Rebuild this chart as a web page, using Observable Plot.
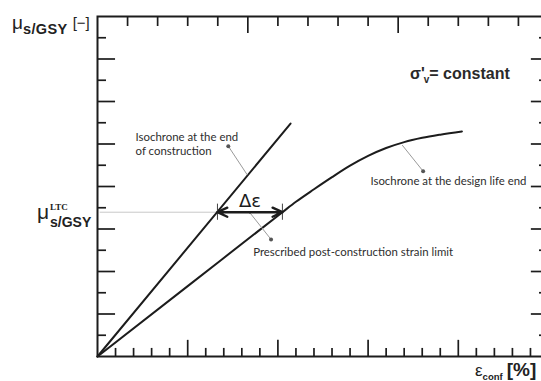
<!DOCTYPE html>
<html><head><meta charset="utf-8">
<script src="https://cdn.jsdelivr.net/npm/d3@7"></script>
<script src="https://cdn.jsdelivr.net/npm/@observablehq/plot@0.6"></script>
<style>
html,body{margin:0;padding:0;overflow:hidden;background:#fff;}
#chart{width:541px;height:381px;overflow:hidden;}
#chart svg{display:block;max-width:none !important;}
</style></head><body><div id="chart"></div>
<script>
// ---- data ----
const bottomTicks = [1,2,3,4,6,7,8,9,11,12,13,14,16,17,18,19,21,22,23,24];
const bottomMajor = [5,10,15,20];
const topTicks = [1.667,3.333,5,6.667,10,11.667,13.333,15,18.333,20,21.667,23.333];
const topMajor = [8.333,16.667];
const sideTicks = [1,3,5,7,9,11,13,15];
const sideMajor = [2,4,6,8,10,12,14];

const constructionStrain = [0, 10.70];
const constructionMu = [0, 10.96];
const designStrain = [0, 5, 10.25, 11, 12, 13, 14, 15, 16, 17, 18, 19, 20.2];
const designMu = [0, 3.31, 6.79, 7.28, 7.87, 8.44, 8.98, 9.44, 9.81, 10.09, 10.29, 10.44, 10.59];

const muLTC = 6.79;
const strainEndConstruction = 6.65;
const strainDesignLife = 10.25;

const labelTexts = ["Isochrone at the end\nof construction", "Isochrone at the design life end", "Prescribed post-construction strain limit"];
const labelStrain = [2.11, 15.13, 8.63];
const labelMu = [9.46, 8.05, 4.75];
const pointerFromStrain = [7.25, 18.05, 9.62];
const pointerFromMu = [9.90, 8.72, 5.51];
const pointerToStrain = [8.3, 16.89, 8.48];
const pointerToMu = [8.55, 9.95, 6.73];

// ---- build tables ----
const construction = constructionStrain.map((x, i) => ({x, y: constructionMu[i]}));
const design = designStrain.map((x, i) => ({x, y: designMu[i]}));
const labels = labelTexts.map((t, i) => ({t, x: labelStrain[i], y: labelMu[i]}));
const pointers = pointerFromStrain.map((x, i) => ({x1: x, y1: pointerFromMu[i], x2: pointerToStrain[i], y2: pointerToMu[i]}));
const midStrain = (strainEndConstruction + strainDesignLife) / 2;

const ink = "#1c1c1c";
const plot = Plot.plot({
  width: 560, height: 381,
  marginLeft: 97, marginRight: 12, marginTop: 16, marginBottom: 25,
  x: {domain: [0, 25], axis: null},
  y: {domain: [0, 16], axis: null},
  style: {background: "transparent", overflow: "visible", maxWidth: "none"},
  marks: [
    Plot.ruleY([muLTC], {x1: 0.15, x2: strainEndConstruction, stroke: "#c8c8c8", strokeWidth: 1}),
    // bottom ticks
    Plot.ruleX(bottomTicks, {x: d => d, y1: 0, y2: 0.38, stroke: ink, strokeWidth: 1.7}),
    Plot.ruleX(bottomMajor, {x: d => d, y1: 0, y2: 0.76, stroke: ink, strokeWidth: 1.7}),
    // top ticks
    Plot.ruleX(topTicks, {x: d => d, y1: 16, y2: 15.53, stroke: ink, strokeWidth: 1.7}),
    Plot.ruleX(topMajor, {x: d => d, y1: 16, y2: 15.2, stroke: ink, strokeWidth: 1.7}),
    // left ticks
    Plot.ruleY(sideTicks, {y: d => d, x1: 0, x2: 0.5, stroke: ink, strokeWidth: 1.7}),
    Plot.ruleY(sideMajor, {y: d => d, x1: 0, x2: 1.0, stroke: ink, strokeWidth: 1.7}),
    // right ticks
    Plot.ruleY(sideTicks, {y: d => d, x1: 25, x2: 24.5, stroke: ink, strokeWidth: 1.7}),
    Plot.ruleY(sideMajor, {y: d => d, x1: 25, x2: 24.05, stroke: ink, strokeWidth: 1.7}),
    Plot.frame({stroke: ink, strokeWidth: 2}),
    // curves
    Plot.line(construction, {x: "x", y: "y", stroke: ink, strokeWidth: 2}),
    Plot.line(design, {x: "x", y: "y", stroke: ink, strokeWidth: 2, curve: "monotone-x"}),
    // pointers
    Plot.link(pointers, {x1: "x1", y1: "y1", x2: "x2", y2: "y2", stroke: "#9a9a9a", strokeWidth: 1}),
    Plot.dot(pointers, {x: "x1", y: "y1", r: 2, fill: "#555", stroke: null}),
    // delta epsilon arrow
    Plot.ruleX([strainEndConstruction, strainDesignLife], {x: d => d, y1: muLTC - 0.38, y2: muLTC + 0.38, stroke: "#444", strokeWidth: 1}),
    Plot.arrow([strainEndConstruction, strainDesignLife], {x1: midStrain, y1: muLTC, x2: d => d, y2: muLTC, stroke: ink, strokeWidth: 2.4, headLength: 7, headAngle: 50}),
    Plot.text(["Δε"], {x: midStrain, y: muLTC + 0.24, text: d => d, fontSize: 18, fontFamily: "DejaVu Sans", fill: ink, textAnchor: "middle", lineAnchor: "bottom"}),
    // annotations
    Plot.text(labels, {x: "x", y: "y", text: "t", fontFamily: "Lato", fontSize: 11.4, fill: "#2e2e2e", textAnchor: "start", lineAnchor: "bottom", lineHeight: 1.3})
  ]
});
document.getElementById("chart").appendChild(plot);

// ---- titles with sub/superscripts ----
const svg = d3.select(plot);
const g = svg.append("g").attr("fill", "#222").attr("text-anchor", "start").attr("font-family", "'Liberation Sans', Arial, sans-serif");

// y-axis title
const t1 = g.append("text").attr("x", 12).attr("y", 29);
t1.append("tspan").attr("font-size", 19).text("μ");
t1.append("tspan").attr("font-size", 14.5).attr("font-weight", "bold").attr("dy", 5).attr("letter-spacing", 0.4).text("s/GSY");
t1.append("tspan").attr("font-size", 15).attr("dy", -6).attr("dx", 5).text("[−]");

// mu LTC label
const t2 = g.append("text").attr("x", 37).attr("y", 219);
t2.append("tspan").attr("font-size", 21).text("μ");
t2.append("tspan").attr("x", 50).attr("y", 209.5).attr("font-size", 9).attr("font-weight", "bold").attr("font-family", "'Liberation Serif', serif").text("LTC");
t2.append("tspan").attr("x", 50).attr("y", 227).attr("font-size", 14).attr("font-weight", "bold").text("s/GSY");

// sigma'_v = constant
const sx = plot.scale("x"), sy = plot.scale("y");
const t3 = g.append("text").attr("x", sx.apply(17.35)).attr("y", sy.apply(13.04)).attr("font-size", 16).attr("font-weight", "bold").attr("fill", "#2a2a2a");
t3.append("tspan").text("σ'");
t3.append("tspan").attr("font-size", 10).attr("dy", 4).attr("dx", -1).text("v");
t3.append("tspan").attr("dy", -4).text("= constant");

// x-axis title
const t4 = g.append("text").attr("x", 475).attr("y", 376);
t4.append("tspan").attr("font-size", 17).text("ε");
t4.append("tspan").attr("font-size", 9.5).attr("font-weight", "bold").attr("dy", 3.5).text("conf");
t4.append("tspan").attr("font-size", 19).attr("font-weight", "bold").attr("dy", -3.5).attr("dx", 4).text("[%]");
</script></body></html>
